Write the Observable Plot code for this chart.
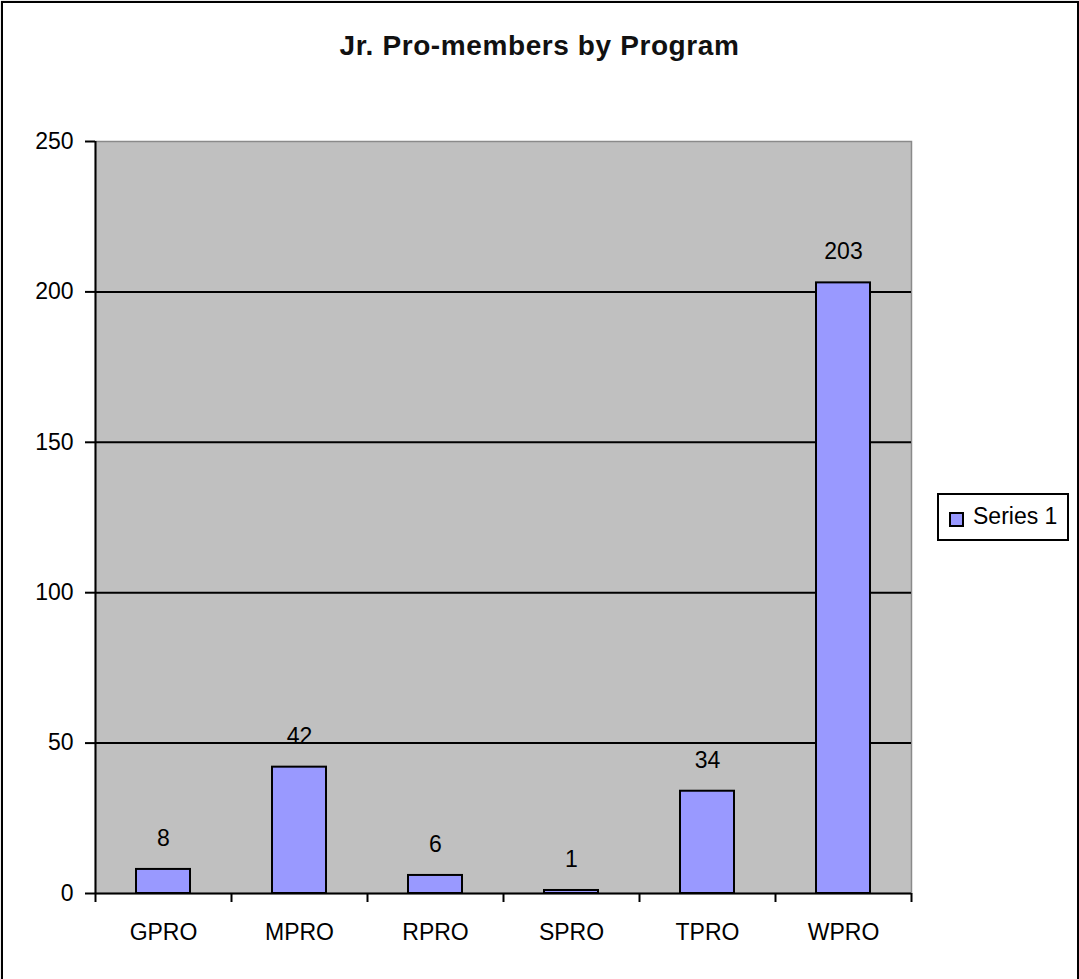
<!DOCTYPE html>
<html>
<head>
<meta charset="utf-8">
<script src="https://cdn.jsdelivr.net/npm/d3@7"></script>
<script src="https://cdn.jsdelivr.net/npm/@observablehq/plot@0.6"></script>
<style>
  html, body { margin: 0; padding: 0; background: #fff; }
  #wrap { position: relative; width: 1079px; height: 979px; overflow: hidden; font-family: "Liberation Sans", Arial, sans-serif; }
  #border { position: absolute; left: 1px; top: 1px; width: 1074px; height: 990px; border: 2px solid #000; box-shadow: 0 0 1px #888; pointer-events: none; }
  #title { position: absolute; left: 0; width: 1079px; top: 30px; text-align: center; font-size: 28px; font-weight: bold; letter-spacing: 0.6px; color: #111; }
  #legend { position: absolute; left: 937px; top: 493px; width: 128px; height: 44px; border: 2px solid #000; background: #fff; }
  #legend .sw { position: absolute; left: 10px; top: 17px; width: 11px; height: 11px; background: #9999ff; border: 2px solid #000; }
  #legend .lab { position: absolute; left: 34px; top: 8px; font-size: 23px; color: #000; }
  #chart { position: absolute; left: 0; top: 0; }
</style>
</head>
<body>
<div id="wrap">
  <div id="chart"></div>
  <div id="title"></div>
  <div id="legend"><div class="sw"></div><div class="lab"></div></div>
  <div id="border"></div>
</div>
<script>
const titleText = "Jr. Pro-members by Program";
const seriesName = "Series 1";
const categories = ["GPRO", "MPRO", "RPRO", "SPRO", "TPRO", "WPRO"];
const values = [8, 42, 6, 1, 34, 203];
const yTicks = [0, 50, 100, 150, 200, 250];
const gridValues = [50, 100, 150, 200];

const data = categories.map((c, i) => ({cat: c, value: values[i]}));

const W = 1079, H = 979, mL = 95, mR = 168, mT = 141, mB = 86;
const half = (W - mL - mR) / categories.length / 2;

const chart = Plot.plot({
  width: W, height: H,
  marginLeft: mL, marginRight: mR, marginTop: mT, marginBottom: mB,
  style: {fontFamily: "'Liberation Sans', Arial, sans-serif", fontSize: "23px", color: "#000", background: "transparent"},
  x: {domain: categories, paddingInner: 0.6, paddingOuter: 0.3, label: null},
  y: {domain: [0, 250], label: null},
  marks: [
    Plot.frame({fill: "#c0c0c0", stroke: "#8a8a8a", strokeWidth: 1.5}),
    Plot.ruleY(gridValues, {stroke: "#000", strokeWidth: 2}),
    Plot.barY(data, {x: "cat", y: "value", fill: "#9999ff", stroke: "#000", strokeWidth: 2}),
    Plot.text(data, {x: "cat", y: "value", text: d => String(d.value), dy: -31, fontSize: 23, fill: "#000"}),
    Plot.ruleY([0], {stroke: "#000", strokeWidth: 2}),
    Plot.ruleX([categories[0]], {dx: -half, stroke: "#000", strokeWidth: 2}),
    Plot.ruleX(categories, {x: d => d, dx: -half, y1: 0, y2: -3, stroke: "#000", strokeWidth: 2}),
    Plot.ruleX([categories[categories.length - 1]], {dx: half, y1: 0, y2: -3, stroke: "#000", strokeWidth: 2}),
    Plot.axisY({ticks: yTicks, tickSize: 10, tickPadding: 12, strokeWidth: 2, stroke: "#000", fontSize: 23}),
    Plot.axisX({tickSize: 0, tickPadding: 30, fontSize: 23})
  ]
});
document.getElementById("chart").appendChild(chart);
document.getElementById("title").textContent = titleText;
document.querySelector("#legend .lab").textContent = seriesName;
</script>
</body>
</html>
